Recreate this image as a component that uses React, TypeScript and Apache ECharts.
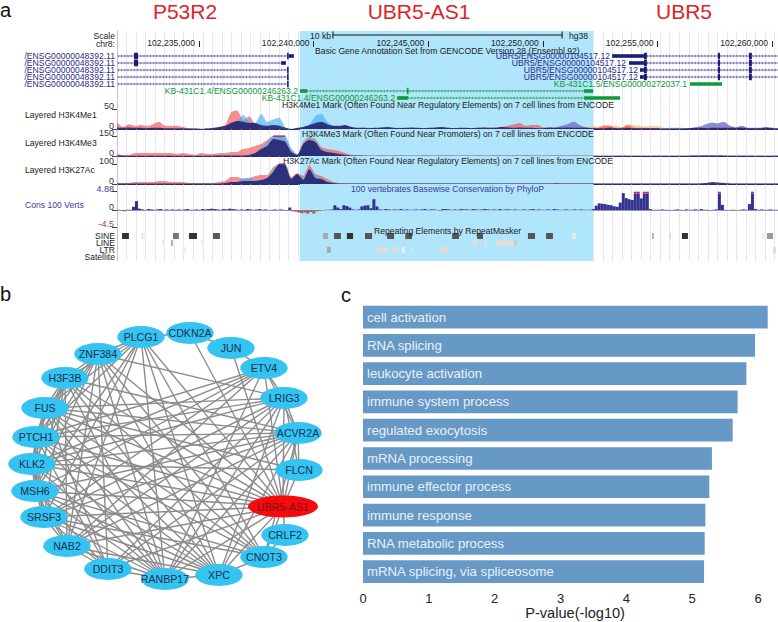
import React, { useEffect, useRef } from "react";
import * as echarts from "echarts";

const FONT = '"Liberation Sans", Arial, sans-serif';

// ---------- panel a: genome browser (positions in kb on chr8, minus 102,000 kb)
const viewStartKb = 231.42;
const viewEndKb = 260.26;
const highlightKb = [[239.4, 252.19]];
const coordTicksKb = [235, 240, 245, 250, 255, 260];
const coordTickLabels = ["102,235,000", "102,240,000", "102,245,000", "102,250,000", "102,255,000", "102,260,000"];
const scaleBarKb = [240.84, 250.84];

// [start, end, row]
const navyIntrons = [
  [231.46, 238.84, 0], [231.46, 238.58, 1], [231.46, 238.84, 2], [231.46, 238.84, 3], [231.46, 238.84, 4],
  [254.54, 260.26, 0], [254.54, 260.26, 1], [254.54, 260.26, 2], [254.54, 260.26, 3],
];
const greenIntrons = [[239.71, 251.8, 5], [244.12, 251.8, 6]];
// [start, end, row, kind] kind 0 = untranslated, 1 = coding exon
const navyBlocks = [
  [232.16, 232.34, 0, 1], [238.84, 238.91, 0, 1], [238.91, 239.14, 0, 0],
  [232.16, 232.34, 1, 1], [238.58, 238.79, 1, 0],
  [238.84, 238.91, 2, 1], [238.84, 238.91, 3, 1], [238.84, 238.91, 4, 1],
  [253.02, 254.41, 0, 0], [254.41, 254.54, 0, 1], [257.64, 257.73, 0, 1], [258.99, 259.12, 0, 1],
  [253.76, 254.41, 1, 0], [254.41, 254.54, 1, 1], [257.64, 257.73, 1, 1], [258.99, 259.12, 1, 1],
  [254.24, 254.41, 2, 0], [254.41, 254.54, 2, 1], [257.64, 257.73, 2, 1], [258.99, 259.12, 2, 1],
  [254.24, 254.41, 3, 0], [254.41, 254.54, 3, 1], [257.64, 257.73, 3, 1], [258.99, 259.12, 3, 1],
];
const greenBlocks = [
  [256.42, 257.82, 4, 0],
  [239.4, 239.71, 5, 0], [244.07, 244.14, 5, 1], [251.8, 252.19, 5, 0],
  [243.64, 244.12, 6, 0], [251.8, 253.37, 6, 0],
];

const signalBins = Array.from({ length: 111 }, (_, i) => String(i));
const me1Red = [
  17, 5, 12, 8, 10, 8, 12, 18, 8, 8,
  8, 5, 2, 1, 0, 2, 2, 5, 10, 42,
  46, 22, 32, 12, 5, 5, 5, 2, 0, 0,
  2, 5, 8, 8, 8, 5, 5, 5, 8, 5,
  2, 3, 3, 2, 2, 2, 2, 3, 2, 2,
  2, 2, 2, 2, 3, 3, 2, 2, 2, 2,
  3, 3, 3, 4, 5, 8, 12, 15, 8, 10,
  10, 4, 5, 3, 3, 2, 3, 4, 5, 3,
  3, 8, 9, 3, 4, 10, 4, 3, 3, 2,
  2, 1, 1, 1, 1, 1, 1, 1, 1, 1,
  1, 1, 1, 1, 2, 1, 1, 1, 1, 1, 1,
];
const me1Blue = [
  0, 0, 0, 0, 0, 0, 0, 0, 0, 0,
  0, 0, 0, 0, 0, 0, 0, 0, 2, 15,
  20, 35, 20, 15, 38, 18, 24, 28, 5, 0,
  0, 2, 10, 32, 38, 18, 8, 2, 1, 1,
  1, 1, 1, 1, 1, 1, 1, 1, 1, 1,
  1, 1, 1, 1, 1, 1, 1, 1, 1, 1,
  1, 1, 1, 1, 1, 1, 1, 1, 1, 1,
  1, 1, 0, 0, 0, 0, 0, 0, 0, 0,
  0, 0, 0, 0, 0, 0, 0, 0, 0, 0,
  0, 0, 3, 3, 3, 0, 0, 0, 0, 0,
  0, 0, 0, 0, 0, 0, 0, 0, 0, 0, 0,
];
const me1Navy = [
  4, 3, 4, 3, 3, 2, 3, 3, 2, 2,
  2, 2, 1, 1, 0, 1, 3, 5, 8, 15,
  20, 18, 15, 15, 10, 8, 10, 8, 3, 0,
  3, 5, 10, 15, 18, 12, 8, 8, 10, 5,
  3, 3, 2, 3, 4, 5, 3, 2, 3, 4,
  3, 2, 3, 4, 5, 3, 2, 3, 3, 2,
  3, 4, 3, 3, 5, 4, 3, 4, 3, 3,
  2, 2, 3, 3, 3, 4, 3, 3, 3, 2,
  2, 2, 3, 2, 2, 3, 2, 2, 2, 2,
  2, 1, 1, 1, 1, 2, 3, 3, 2, 3,
  3, 3, 3, 3, 3, 2, 2, 2, 3, 2, 1,
];
const me1Sand = [
  0, 0, 0, 0, 0, 0, 0, 0, 0, 0,
  0, 0, 0, 0, 0, 0, 0, 0, 0, 0,
  0, 0, 0, 0, 0, 0, 0, 0, 0, 0,
  0, 0, 0, 0, 0, 0, 0, 0, 0, 0,
  0, 0, 0, 0, 0, 0, 0, 0, 0, 0,
  0, 0, 0, 0, 0, 0, 0, 0, 0, 0,
  0, 0, 0, 0, 0, 0, 0, 0, 0, 0,
  0, 0, 0, 0, 0, 0, 0, 7, 4, 8,
  5, 10, 7, 8, 4, 12, 10, 9, 6, 8,
  8, 4, 0, 0, 0, 0, 0, 0, 0, 0,
  0, 0, 0, 0, 0, 0, 0, 0, 0, 0, 0,
];
const me1Peri = [
  0, 0, 0, 0, 0, 0, 0, 0, 0, 0,
  0, 0, 0, 0, 0, 0, 0, 0, 0, 0,
  0, 0, 0, 0, 0, 0, 0, 0, 0, 0,
  0, 0, 0, 0, 0, 0, 0, 0, 0, 0,
  0, 0, 0, 0, 0, 0, 0, 0, 0, 0,
  0, 0, 0, 0, 0, 0, 0, 0, 0, 0,
  0, 0, 0, 0, 0, 0, 0, 0, 0, 0,
  0, 2, 3, 4, 8, 12, 18, 10, 3, 2,
  0, 0, 0, 0, 0, 0, 0, 0, 0, 0,
  0, 0, 0, 0, 0, 1, 3, 6, 12, 16,
  14, 18, 8, 4, 8, 3, 3, 3, 5, 3, 2,
];

const me3Red = [
  15, 8, 8, 22, 22, 22, 22, 22, 22, 22,
  15, 22, 15, 8, 22, 15, 15, 22, 22, 30,
  30, 52, 60, 75, 90, 120, 150, 150, 135, 45,
  8, 105, 142, 128, 68, 52, 45, 38, 22, 8,
  4, 3, 2, 2, 3, 2, 2, 3, 2, 2,
  2, 3, 2, 2, 3, 3, 2, 2, 2, 2,
  3, 2, 2, 3, 2, 2, 3, 2, 3, 2,
  2, 2, 2, 3, 2, 2, 3, 2, 2, 2,
  2, 2, 2, 2, 3, 2, 2, 2, 2, 2,
  2, 2, 2, 2, 2, 2, 4, 4, 5, 6,
  5, 5, 4, 3, 3, 3, 2, 2, 2, 2, 3,
];
const me3Blue = [
  0, 0, 0, 0, 0, 0, 0, 0, 0, 0,
  0, 0, 0, 0, 0, 0, 0, 0, 0, 0,
  0, 0, 8, 22, 60, 105, 150, 150, 150, 60,
  15, 75, 135, 112, 45, 22, 8, 0, 0, 0,
  0, 0, 0, 0, 0, 0, 0, 0, 0, 0,
  0, 0, 0, 0, 0, 0, 0, 0, 0, 0,
  0, 0, 0, 0, 0, 0, 0, 0, 0, 0,
  0, 0, 0, 0, 0, 0, 0, 0, 0, 0,
  0, 0, 0, 0, 0, 0, 0, 0, 0, 0,
  0, 0, 0, 0, 0, 0, 0, 0, 0, 0,
  0, 0, 0, 0, 0, 0, 0, 0, 0, 0, 0,
];
const me3Navy = [
  3, 2, 2, 2, 2, 2, 2, 2, 2, 2,
  2, 2, 2, 2, 2, 2, 2, 3, 3, 3,
  4, 4, 8, 22, 52, 75, 128, 120, 105, 30,
  8, 90, 120, 105, 45, 30, 22, 15, 8, 4,
  3, 2, 2, 2, 2, 2, 2, 2, 2, 2,
  2, 2, 2, 2, 2, 2, 2, 2, 2, 2,
  2, 2, 2, 2, 2, 2, 2, 2, 2, 2,
  2, 2, 2, 2, 2, 2, 2, 2, 2, 2,
  2, 2, 2, 2, 2, 2, 2, 2, 2, 2,
  2, 2, 2, 2, 2, 2, 3, 3, 3, 3,
  3, 2, 2, 2, 2, 2, 2, 2, 2, 2, 2,
];
const me3Clip = signalBins.map((_, i) => (i >= 26 && i <= 28 ? 150 : null));

const k27Red = [
  5, 5, 5, 10, 10, 10, 10, 15, 15, 10,
  10, 10, 5, 5, 5, 5, 5, 10, 15, 35,
  35, 25, 30, 40, 45, 45, 85, 100, 100, 35,
  55, 40, 95, 50, 40, 25, 10, 5, 3, 2,
  2, 2, 2, 2, 2, 2, 2, 3, 2, 2,
  2, 2, 2, 2, 2, 2, 2, 2, 2, 2,
  2, 2, 2, 2, 3, 3, 2, 3, 3, 3,
  3, 2, 2, 2, 3, 3, 3, 2, 2, 3,
  3, 3, 3, 2, 2, 3, 3, 2, 2, 2,
  2, 2, 2, 2, 2, 2, 2, 3, 3, 4,
  3, 3, 2, 2, 2, 2, 2, 2, 2, 2, 2,
];
const k27Blue = [
  0, 0, 0, 0, 0, 0, 0, 0, 0, 0,
  0, 0, 0, 0, 0, 0, 0, 0, 0, 0,
  10, 30, 30, 20, 20, 30, 70, 100, 100, 30,
  50, 30, 70, 45, 25, 10, 0, 0, 0, 0,
  0, 0, 0, 0, 0, 0, 0, 0, 0, 0,
  0, 0, 0, 0, 0, 0, 0, 0, 0, 0,
  0, 0, 0, 0, 0, 0, 0, 0, 0, 0,
  0, 0, 0, 0, 0, 0, 0, 0, 0, 0,
  0, 0, 0, 0, 0, 0, 0, 0, 0, 0,
  0, 0, 0, 0, 0, 0, 0, 0, 0, 0,
  0, 0, 0, 0, 0, 0, 0, 0, 0, 0, 0,
];
const k27Navy = [
  2, 2, 2, 2, 2, 2, 2, 2, 2, 2,
  2, 2, 2, 2, 2, 2, 2, 2, 5, 10,
  10, 15, 15, 15, 20, 30, 60, 100, 95, 25,
  50, 20, 75, 30, 25, 10, 5, 2, 2, 2,
  2, 2, 2, 2, 2, 2, 2, 2, 2, 2,
  2, 2, 2, 2, 2, 2, 2, 2, 2, 2,
  2, 2, 2, 2, 2, 2, 2, 2, 2, 2,
  2, 2, 2, 4, 3, 2, 2, 2, 2, 2,
  2, 2, 2, 2, 2, 2, 2, 2, 2, 2,
  2, 2, 2, 2, 2, 2, 2, 3, 5, 10,
  7, 5, 3, 2, 2, 2, 2, 2, 2, 2, 2,
];
const k27Clip = signalBins.map((_, i) => (i === 27 || i === 28 ? 100 : null));

const consBins = Array.from({ length: 220 }, (_, i) => String(i));
const consTicks = [4.88, 0, -4.5];
const consValues = [
  0.1, -0.2, -0.3, 0.1, 0.1, 0.9, 2.4, 0.4, 0.2, 0.1, 0.3, 0.2, 0.1, 0.2, 0.3, 0.1, 0.2, 0.1, 0.2, 0.1,
  0.2, 0.1, 0.2, 0.3, 0.1, 0.1, 0.2, 0.1, 0.3, 0.2, 0.3, 0.4, 0.3, 0.2, 0.1, 0.3, 0.2, 0.4, 0.3, 0.2,
  0.1, 0.2, 0.1, 0.3, 0.2, 0.1, 0.2, 0.3, 0.1, 0.2, -0.1, 0.1, 0.2, 0.1, 0.2, 0.1, -0.2, 0.7, -0.3, -0.4,
  -0.6, -0.8, -0.6, -0.9, -0.5, -0.9, -0.3, -0.2, -0.1, 0.1, 0.1, 0.2, 1.3, 0.7, 0.3, 1.3, 1.1, 0.7, 0.2, 0.1,
  0.2, 1.0, 1.2, 1.3, 0.5, 2.9, 1.0, 0.2, 0.1, 0.3, 0.2, 0.1, 0.2, 0.1, 0.3, 0.1, 0.2, 0.1, 0.1, 0.2,
  0.1, 0.2, 0.3, 0.1, 0.2, 0.2, 0.1, -0.2, 0.3, 0.3, 0.2, 0.1, 0.2, 0.1, 0.3, 0.2, 0.2, 0.1, 0.3, 0.2,
  0.1, 0.2, 0.3, 0.2, 0.1, 0.2, 0.1, 0.3, 0.1, 0.2, 0.2, 0.1, 0.2, 0.1, 0.1, 0.2, 0.1, 0.2, 0.3, 0.1,
  0.2, 0.1, 0.1, 0.2, 0.1, 0.3, 0.2, 0.1, 0.1, 0.2, 0.1, 0.1, 0.2, 0.1, 0.2, 0.1, 0.1, 0.1, 0.3, 1.2,
  1.8, 1.7, 1.6, 1.4, 1.3, 1.0, 0.9, 2.0, 4.5, 3.2, 2.9, 2.7, 4.88, 4.88, 3.1, 4.88, 4.88, 0.3, 0.1, 0.1,
  0.1, 0.2, 0.1, 0.1, -0.1, 0.1, 0.2, 0.1, -0.1, 0.2, 0.1, 0.1, 0.2, 0.1, 0.3, 0.1, 0.1, -0.1, 0.1, 0.2,
  4.88, 1.4, 0.1, -0.1, 0.1, 0.1, -0.1, 0.1, 0.2, 0.1, 1.6, 4.88, 0.3, 0.1, 0.2, 0.1, 0.1, 0.2, 0.1, 0.1,
];

// [start, end, row, grey]
const repeatBlocks = [
  [231.64, 231.94, 0, 0x33], [232.47, 232.69, 0, 0xee], [233.86, 234.12, 0, 0x77], [234.56, 234.91, 0, 0x33],
  [235.61, 235.91, 0, 0x55], [240.41, 240.63, 0, 0xaa], [240.89, 241.19, 0, 0x55], [241.45, 241.72, 0, 0x33],
  [242.24, 242.55, 0, 0x55], [243.2, 243.51, 0, 0x55], [244.0, 244.29, 0, 0x55], [246.04, 246.34, 0, 0x55],
  [247.13, 247.39, 0, 0x55], [249.35, 249.66, 0, 0x55], [250.14, 250.44, 0, 0x55], [251.27, 251.45, 0, 0xe8],
  [254.76, 254.85, 0, 0xbb], [255.5, 255.59, 0, 0xdd], [256.07, 256.33, 0, 0x33], [259.56, 259.74, 0, 0xee], [259.78, 260.04, 0, 0x99],
  [233.38, 233.51, 1, 0xee], [233.78, 233.86, 1, 0xaa], [235.08, 235.22, 1, 0xee], [246.91, 247.13, 1, 0xdd],
  [247.43, 247.56, 1, 0xdd], [248.0, 248.7, 1, 0xdd], [248.74, 248.87, 1, 0xcc],
  [234.26, 234.43, 2, 0xee], [240.58, 240.75, 2, 0xaa], [242.76, 243.2, 2, 0xdd], [243.42, 243.72, 2, 0xdd],
  [243.85, 243.98, 2, 0xee], [244.29, 244.33, 2, 0xee], [245.47, 245.86, 2, 0xdd], [260.04, 260.17, 2, 0xdd],
];

// ---------- panel b: network (layout units of the network drawing)
const nodeNames = ["PLCG1", "CDKN2A", "JUN", "ETV4", "LRIG3", "ACVR2A", "FLCN", "UBR5-AS1", "CRLF2", "CNOT3", "XPC", "RANBP17", "DDIT3", "NAB2", "SRSF3", "MSH6", "KLK2", "PTCH1", "FUS", "H3F3B", "ZNF384"];
const nodeX = [141, 190, 231, 264, 284, 298, 299, 283, 285, 264, 219, 165, 108, 67, 44, 35, 32, 36, 45, 65, 98];
const nodeY = [57, 53, 68, 88, 118, 153, 190, 226.5, 255, 277, 295, 299, 289, 266, 237, 211, 184, 157, 128, 98, 74];
const edgeLists: [string, string[]][] = [
  ["H3F3B", ["FUS", "PTCH1", "KLK2", "MSH6", "SRSF3", "NAB2", "ZNF384", "PLCG1", "RANBP17", "XPC", "UBR5-AS1", "ACVR2A", "CNOT3"]],
  ["ZNF384", ["PLCG1", "FUS", "PTCH1", "KLK2", "MSH6", "LRIG3", "RANBP17", "XPC", "CNOT3", "UBR5-AS1", "DDIT3", "NAB2"]],
  ["PLCG1", ["CDKN2A", "FUS", "MSH6", "SRSF3", "NAB2", "PTCH1", "XPC", "CNOT3", "UBR5-AS1", "RANBP17"]],
  ["CDKN2A", ["JUN", "UBR5-AS1"]],
  ["JUN", ["ETV4", "UBR5-AS1"]],
  ["ETV4", ["LRIG3", "ACVR2A", "UBR5-AS1", "RANBP17", "MSH6", "KLK2", "SRSF3", "NAB2", "PTCH1"]],
  ["LRIG3", ["ACVR2A", "FLCN", "UBR5-AS1", "FUS", "PTCH1", "KLK2", "SRSF3", "NAB2", "DDIT3", "RANBP17", "XPC"]],
  ["ACVR2A", ["FLCN", "UBR5-AS1", "FUS", "PTCH1", "KLK2", "MSH6", "SRSF3", "DDIT3", "NAB2", "RANBP17", "XPC", "CNOT3"]],
  ["FLCN", ["UBR5-AS1", "KLK2", "FUS"]],
  ["UBR5-AS1", ["CRLF2", "CNOT3", "XPC", "RANBP17", "DDIT3", "NAB2", "SRSF3", "MSH6", "KLK2", "PTCH1", "FUS"]],
  ["CRLF2", ["CNOT3"]],
  ["CNOT3", ["XPC", "SRSF3", "MSH6", "FUS", "PTCH1"]],
  ["XPC", ["RANBP17", "FUS", "PTCH1", "KLK2", "MSH6", "SRSF3", "NAB2"]],
  ["RANBP17", ["DDIT3", "FUS", "PTCH1", "KLK2", "MSH6", "SRSF3", "NAB2"]],
  ["DDIT3", ["NAB2", "SRSF3", "MSH6", "PTCH1", "FUS"]],
  ["NAB2", ["SRSF3", "MSH6", "KLK2"]],
  ["SRSF3", ["MSH6", "KLK2", "PTCH1"]],
  ["MSH6", ["KLK2", "PTCH1", "FUS"]],
  ["KLK2", ["PTCH1", "FUS"]],
  ["PTCH1", ["FUS"]],
];

// ---------- panel c: enrichment bars
const termNames = ["cell activation", "RNA splicing", "leukocyte activation", "immune system process", "regulated exocytosis", "mRNA processing", "immune effector process", "immune response", "RNA metabolic process", "mRNA splicing, via spliceosome"];
const termValues = [6.147, 5.955, 5.823, 5.69, 5.615, 5.3, 5.26, 5.2, 5.19, 5.18];

const NAVY = "#1c1c78";
const GREEN = "#0f9a35";
const TRACK_RED = "rgba(240,75,75,0.62)";
const TRACK_BLUE = "rgba(70,175,240,0.65)";
const TRACK_NAVY = "rgba(20,15,100,0.78)";
const TRACK_SAND = "rgba(245,195,130,0.75)";
const TRACK_PERI = "rgba(120,120,200,0.85)";

function App() {
  const ref = useRef<HTMLDivElement>(null);
  useEffect(() => {
    const chart = echarts.init(ref.current!, undefined, { renderer: "svg" });

    const hiddenKb = (gridIndex: number) => ({
      type: "value", gridIndex, min: viewStartKb, max: viewEndKb, show: false,
    });
    const trackX = (gridIndex: number, data: string[]) => ({
      type: "category", gridIndex, data, boundaryGap: false,
      axisLine: { show: true, onZero: false, lineStyle: { color: "#2a2a66", width: 1 } },
      axisTick: { show: false }, axisLabel: { show: false }, splitLine: { show: false },
    });
    const trackY = (gridIndex: number, max: number) => ({
      type: "value", gridIndex, min: 0, max, z: 10,
      axisLine: { show: false }, splitLine: { show: false },
      axisTick: { show: true, length: 5, customValues: [0, max], lineStyle: { color: "#444" } },
      axisLabel: {
        show: true, customValues: [0, max], showMinLabel: true, showMaxLabel: true, fontFamily: FONT, fontSize: 9, color: "#333", margin: 3,
        verticalAlign: "bottom", lineHeight: 6, formatter: (v: number) => String(v),
      },
    });
    const area = (name: string, data: any[], x: number, y: number, color: string) => ({
      name, type: "line", data, xAxisIndex: x, yAxisIndex: y, smooth: 0.2, symbol: "none", z: 4,
      lineStyle: { width: 0 }, areaStyle: { color, opacity: 1 },
    });
    const clipLine = (name: string, data: any[], x: number, y: number) => ({
      name, type: "line", data, xAxisIndex: x, yAxisIndex: y, symbol: "none", z: 5, connectNulls: false,
      lineStyle: { width: 1.5, color: "#8c2a70" },
    });
    const intronSeries = (name: string, data: number[][], color: string) => ({
      name, type: "custom", xAxisIndex: 3, yAxisIndex: 2, data, z: 6, clip: false,
      encode: { x: [0, 1], y: 2 },
      renderItem: (_: any, api: any) => {
        const a = api.coord([api.value(0), api.value(2)]);
        const b = api.coord([api.value(1), api.value(2)]);
        const shape = { x1: a[0], y1: a[1], x2: b[0], y2: b[1] };
        return {
          type: "group",
          children: [
            { type: "line", shape, style: { stroke: color, lineWidth: 0.8, opacity: 0.8 } },
            { type: "line", shape, style: { stroke: color, lineWidth: 2.6, lineDash: [1, 2.2], opacity: 0.55 } },
          ],
        };
      },
    });
    const blockSeries = (name: string, data: number[][], color: string) => ({
      name, type: "custom", xAxisIndex: 3, yAxisIndex: 2, data, z: 7, clip: false,
      encode: { x: [0, 1], y: 2 },
      renderItem: (_: any, api: any) => {
        const a = api.coord([api.value(0), api.value(2)]);
        const b = api.coord([api.value(1), api.value(2)]);
        const h = api.value(3) === 1 ? 6.5 : 3.6;
        return { type: "rect", shape: { x: a[0], y: a[1] - h / 2, width: Math.max(1.2, b[0] - a[0]), height: h }, style: { fill: color } };
      },
    });

    const T = (text: string, x: number, y: number, fill = "#222", align = "left", fontSize = 8.6) => ({
      type: "text", x, y, z: 100, silent: true,
      style: { text, fill, align, verticalAlign: "middle", fontFamily: FONT, fontSize, lineHeight: fontSize < 10 ? 6.5 : undefined },
    });
    const GENE_BLUE = "#2a2a8a";
    const RED_TITLE = "#dc2329";
    const graphic = [
      T("a", 0, 10, "#111", "left", 20), T("b", 0, 294, "#111", "left", 20), T("c", 341, 295, "#111", "left", 20),
      T("P53R2", 185, 11, RED_TITLE, "center", 21), T("UBR5-AS1", 419, 11, RED_TITLE, "center", 21), T("UBR5", 684, 11, RED_TITLE, "center", 21),
      T("Scale", 115, 36, "#222", "right"), T("chr8:", 115, 44, "#222", "right"),
      T("10 kb", 310, 36), T("hg38", 569, 36),
      T("Basic Gene Annotation Set from GENCODE Version 28 (Ensembl 92)", 315, 50.5),
      ...[56, 63, 70, 77, 84].map((y) => T("/ENSG00000048392.11", 115, y, GENE_BLUE, "right")),
      T("UBR5/ENSG00000104517.12", 610, 56, GENE_BLUE, "right"),
      T("UBR5/ENSG00000104517.12", 626, 63, GENE_BLUE, "right"),
      T("UBR5/ENSG00000104517.12", 638, 70, GENE_BLUE, "right"),
      T("UBR5/ENSG00000104517.12", 638, 77, GENE_BLUE, "right"),
      T("KB-431C1.5/ENSG00000272037.1", 687, 84, GREEN, "right"),
      T("KB-431C1.4/ENSG00000246263.2", 298, 91, GREEN, "right"),
      T("KB-431C1.4/ENSG00000246263.2", 395, 98, GREEN, "right"),
      T("H3K4Me1 Mark (Often Found Near Regulatory Elements) on 7 cell lines from ENCODE", 282, 105),
      T("H3K4Me3 Mark (Often Found Near Promoters) on 7 cell lines from ENCODE", 302, 133.5),
      T("H3K27Ac Mark (Often Found Near Regulatory Elements) on 7 cell lines from ENCODE", 283, 161),
      T("100 vertebrates Basewise Conservation by PhyloP", 351, 189, "#3a3a9a"),
      T("Repeating Elements by RepeatMasker", 374, 231),
      T("Layered H3K4Me1", 25, 115), T("Layered H3K4Me3", 25, 143), T("Layered H3K27Ac", 25, 170),
      T("Cons 100 Verts", 25, 205, "#3a3a9a"),
      T("SINE", 115, 236, "#222", "right"), T("LINE", 115, 243, "#222", "right"), T("LTR", 115, 250, "#222", "right"), T("Satellite", 115, 256.5, "#222", "right"),
    ];

    const nodes = nodeNames.map((name, i) => {
      const hub = name === "UBR5-AS1";
      return {
        name, value: [nodeX[i], nodeY[i]], symbolSize: hub ? [70, 22] : [47.5, 22],
        itemStyle: { color: hub ? "#f50b0b" : "#35c3f2" },
        label: { color: hub ? "#7a0a1a" : "#12324e" },
      };
    });
    const links = edgeLists.flatMap(([source, targets]) => targets.map((target) => ({ source, target })));

    const signalSets: [any[][], number][] = [
      [[[me1Sand, TRACK_SAND], [me1Red, TRACK_RED], [me1Blue, TRACK_BLUE], [me1Peri, TRACK_PERI], [me1Navy, TRACK_NAVY]], 0],
      [[[me3Red, TRACK_RED], [me3Blue, TRACK_BLUE], [me3Navy, TRACK_NAVY]], 1],
      [[[k27Red, TRACK_RED], [k27Blue, TRACK_BLUE], [k27Navy, TRACK_NAVY]], 2],
    ];

    chart.setOption({
      animation: false,
      backgroundColor: "#fff",
      textStyle: { fontFamily: FONT },
      graphic,
      grid: [
        { left: 117, top: 31, width: 661, height: 230 }, // 0 frame
        { left: 117, top: 31, width: 661, height: 16 }, // 1 ruler
        { left: 117, top: 52.5, width: 661, height: 49 }, // 2 genes
        { left: 117, top: 109, width: 661, height: 20 }, // 3
        { left: 117, top: 136, width: 661, height: 20 }, // 4
        { left: 117, top: 164, width: 661, height: 20 }, // 5
        { left: 117, top: 191.7, width: 661, height: 35.5 }, // 6 cons
        { left: 117, top: 232.5, width: 661, height: 28 }, // 7 repeats
        { left: 0, top: 280, width: 340, height: 340 }, // 8 network
        { left: 363, top: 303, width: 408.2, height: 282.7 }, // 9 bars
      ],
      xAxis: [
        hiddenKb(0),
        {
          type: "value", gridIndex: 0, min: 0, max: 69.36, interval: 1, z: 3,
          axisLine: { show: false }, axisTick: { show: false }, axisLabel: { show: false },
          splitLine: { show: true, lineStyle: { color: "rgba(205,205,248,0.5)", width: 1 } },
        },
        {
          type: "value", gridIndex: 1, min: viewStartKb, max: viewEndKb, position: "bottom", z: 10,
          axisLine: { show: false }, splitLine: { show: false },
          axisTick: { show: true, inside: true, length: 6, customValues: coordTicksKb, lineStyle: { color: "#222" } },
          axisLabel: {
            show: true, inside: true, customValues: coordTicksKb, margin: 0, fontFamily: FONT, fontSize: 8.6, color: "#222",
            align: "right", verticalAlign: "bottom", padding: [0, 4, 0, 0], hideOverlap: false,
            showMinLabel: true, showMaxLabel: true,
            formatter: (v: number) => coordTickLabels[coordTicksKb.indexOf(Math.round(v))] ?? "",
          },
        },
        hiddenKb(2),
        trackX(3, signalBins), trackX(4, signalBins), trackX(5, signalBins),
        {
          type: "category", gridIndex: 6, data: consBins,
          axisLine: { show: true, lineStyle: { color: "rgba(70,70,140,0.6)", width: 0.8 } },
          axisTick: { show: false }, axisLabel: { show: false },
        },
        hiddenKb(7),
        { type: "value", gridIndex: 8, min: 0, max: 340, show: false },
        {
          type: "value", gridIndex: 9, min: 0, max: 6.2, interval: 1,
          axisLine: { show: false }, axisTick: { show: false }, splitLine: { show: false },
          axisLabel: { fontFamily: FONT, fontSize: 13, color: "#222", margin: 6, formatter: (v: number) => (v > 6 ? "" : String(v)) },
          name: "P-value(-log10)", nameLocation: "middle", nameGap: 19,
          nameTextStyle: { fontFamily: FONT, fontSize: 14.6, color: "#222", padding: [0, 0, 0, 16] },
        },
      ],
      yAxis: [
        { type: "value", gridIndex: 0, min: 0, max: 1, axisLine: { show: true, lineStyle: { color: "#f2a6a0", width: 1 } }, axisTick: { show: false }, axisLabel: { show: false }, splitLine: { show: false } },
        { type: "value", gridIndex: 1, min: 0, max: 1, show: false },
        { type: "value", gridIndex: 2, min: -0.5, max: 6.5, inverse: true, show: false },
        trackY(3, 50), trackY(4, 150), trackY(5, 100),
        {
          type: "value", gridIndex: 6, min: -4.5, max: 4.88, z: 10,
          axisLine: { show: false }, splitLine: { show: false },
          axisTick: { show: true, length: 5, customValues: consTicks, lineStyle: { color: "#444" } },
          axisLabel: {
            customValues: consTicks, fontFamily: FONT, fontSize: 9, margin: 3, verticalAlign: "bottom", lineHeight: 6,
            showMinLabel: true, showMaxLabel: true,
            color: (v: number) => (v > 0 ? "#3a3a9a" : v < 0 ? "#a04040" : "#333"),
            formatter: (v: number) => String(v),
          },
        },
        { type: "value", gridIndex: 7, min: -0.5, max: 3.5, inverse: true, show: false },
        { type: "value", gridIndex: 8, min: 0, max: 340, inverse: true, show: false },
        { type: "category", gridIndex: 9, data: termNames, inverse: true, show: false },
      ],
      series: [
        {
          name: "highlight", type: "custom", xAxisIndex: 0, yAxisIndex: 0, data: highlightKb, z: 1,
          encode: { x: [0, 1] },
          renderItem: (params: any, api: any) => {
            const a = api.coord([api.value(0), 1]);
            const b = api.coord([api.value(1), 0]);
            return { type: "rect", shape: { x: a[0], y: a[1], width: b[0] - a[0], height: b[1] - a[1] }, style: { fill: "#aee6fb" } };
          },
        },
        {
          name: "scale bar", type: "line", xAxisIndex: 2, yAxisIndex: 1, z: 6,
          data: scaleBarKb.map((k) => [k, 0.75]), symbol: "rect", symbolSize: [1, 7],
          itemStyle: { color: "#111" }, lineStyle: { color: "#111", width: 1 },
        },
        intronSeries("navy introns", navyIntrons, "#3a3a90"),
        intronSeries("green introns", greenIntrons, GREEN),
        blockSeries("navy blocks", navyBlocks, NAVY),
        blockSeries("green blocks", greenBlocks, GREEN),
        ...signalSets.flatMap(([layers, k]) =>
          layers.map(([data, color], i) => area(`track${k}-${i}`, data, 4 + k, 3 + k, color)),
        ),
        clipLine("H3K4Me3 clipped", me3Clip, 5, 4),
        clipLine("H3K27Ac clipped", k27Clip, 6, 5),
        {
          name: "phyloP", type: "bar", xAxisIndex: 7, yAxisIndex: 6, stack: "cons", barWidth: "100%", z: 5,
          data: consValues.map((v) => ({
            value: v >= 4.88 ? 4.4 : v,
            itemStyle: { color: v < 0 ? "#a05a5a" : "#33338f" },
          })),
        },
        {
          name: "phyloP clipped", type: "bar", xAxisIndex: 7, yAxisIndex: 6, stack: "cons", barWidth: "100%", z: 5,
          itemStyle: { color: "#c0208a" },
          data: consValues.map((v) => (v >= 4.88 ? 0.48 : null)),
        },
        {
          name: "repeats", type: "custom", xAxisIndex: 8, yAxisIndex: 7, data: repeatBlocks, z: 6, clip: false,
          encode: { x: [0, 1], y: 2 },
          renderItem: (_: any, api: any) => {
            const a = api.coord([api.value(0), api.value(2)]);
            const b = api.coord([api.value(1), api.value(2)]);
            const g = api.value(3);
            return { type: "rect", shape: { x: a[0], y: a[1] - 3, width: b[0] - a[0], height: 6 }, style: { fill: `rgb(${g},${g},${g})` } };
          },
        },
        {
          name: "network", type: "graph", coordinateSystem: "cartesian2d", xAxisIndex: 9, yAxisIndex: 8, z: 3,
          data: nodes, links, symbol: "circle", roam: false,
          lineStyle: { color: "#8c8c8c", width: 1.4, opacity: 1, curveness: 0 },
          label: { show: true, position: "inside", fontFamily: FONT, fontSize: 10.6 },
          emphasis: { disabled: true },
        },
        {
          name: "enrichment", type: "bar", xAxisIndex: 10, yAxisIndex: 9, data: termValues, barWidth: 22.7,
          itemStyle: { color: "#6699c6" },
          label: { show: true, position: "insideLeft", distance: 4, formatter: "{b}", fontFamily: FONT, fontSize: 13.2, color: "#e8f1f8" },
        },
      ],
    });
    return () => chart.dispose();
  }, []);
  return <div ref={ref} style={{ position: "fixed", left: 0, top: 0, width: 778, height: 622, background: "#fff" }} />;
}

export default App;
